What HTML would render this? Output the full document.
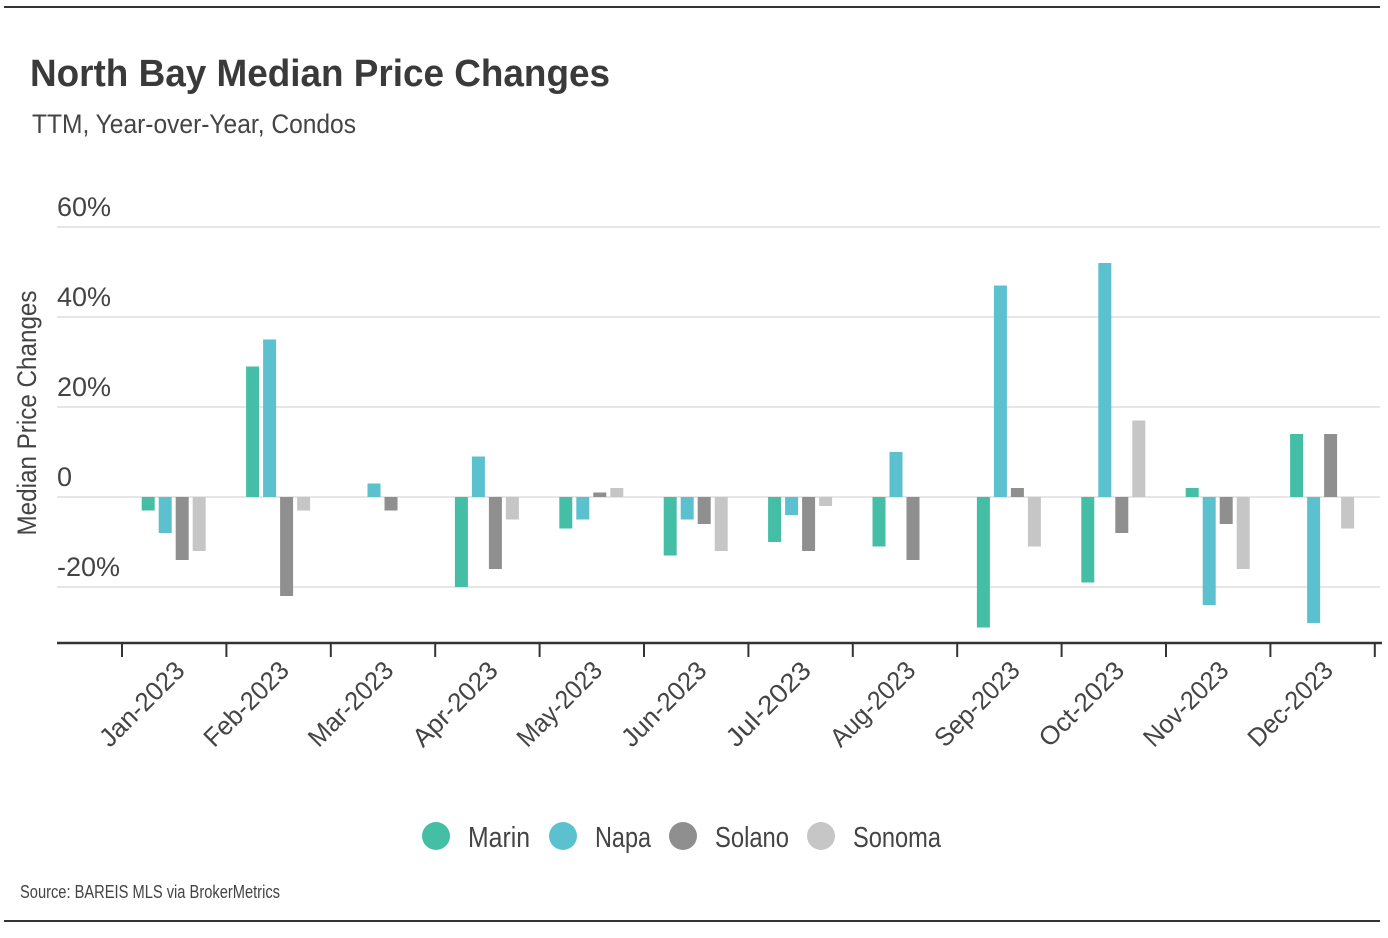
<!DOCTYPE html>
<html><head><meta charset="utf-8"><style>
body{margin:0;background:#fff;}
svg{display:block;font-family:"Liberation Sans",sans-serif;}
</style></head><body>
<svg id="chart" width="1388" height="938" viewBox="0 0 1388 938">
<line x1="4" y1="7" x2="1380" y2="7" stroke="#333" stroke-width="2"/>
<line x1="4" y1="921" x2="1380" y2="921" stroke="#333" stroke-width="2"/>
<text x="30" y="86" font-size="38" font-weight="bold" fill="#3a3a3a" textLength="580" lengthAdjust="spacingAndGlyphs">North Bay Median Price Changes</text>
<text x="32" y="133" font-size="27" fill="#444" textLength="324" lengthAdjust="spacingAndGlyphs">TTM, Year-over-Year, Condos</text>
<text transform="translate(36,413) rotate(-90)" text-anchor="middle" font-size="27" fill="#444" textLength="245" lengthAdjust="spacingAndGlyphs">Median Price Changes</text>
<g id="grid"></g><g id="bars"></g><g id="xaxis"></g>
<g id="legend"></g>
<text x="20" y="898" font-size="18" fill="#444" textLength="260" lengthAdjust="spacingAndGlyphs">Source:  BAREIS MLS via BrokerMetrics</text>
</svg>
<script>
const categories=["Jan-2023","Feb-2023","Mar-2023","Apr-2023","May-2023","Jun-2023","Jul-2023","Aug-2023","Sep-2023","Oct-2023","Nov-2023","Dec-2023"];
const seriesNames=["Marin","Napa","Solano","Sonoma"];
const marin=[-3,29,0,-20,-7,-13,-10,-11,-29,-19,2,14];
const napa=[-8,35,3,9,-5,-5,-4,10,47,52,-24,-28];
const solano=[-14,-22,-3,-16,1,-6,-12,-14,2,-8,-6,14];
const sonoma=[-12,-3,0,-5,2,-12,-2,0,-11,17,-16,-7];
const yTicks=[60,40,20,0,-20];
const yTickLabels=["60%","40%","20%","0","-20%"];
const colors=["#45bea6","#5cc1cf","#8f8f8f","#c6c6c6"];
const NS="http://www.w3.org/2000/svg";
const y0=497, pxPer=4.5, xLeft=122, step=104.4;
const y=v=>y0-v*pxPer;
const x=i=>xLeft+step*i+step/2;
function mk(t,a,p){const e=document.createElementNS(NS,t);for(const k in a)e.setAttribute(k,a[k]);p.appendChild(e);return e;}
const grid=document.getElementById('grid');
yTicks.forEach((v,i)=>{
 const l=mk('line',{x1:57,x2:1380,y1:y(v),y2:y(v),stroke:'#ddd','stroke-width':1.5},grid);
 
 
 const t=mk('text',{x:57,y:y(v)-11,'font-size':27,fill:'#444'},grid);
 t.textContent=yTickLabels[i];
 
 
});
const bars=document.getElementById('bars');
const series=[marin,napa,solano,sonoma];
const offs=[-26,-9,8,25];
series.forEach((s,si)=>s.forEach((v,i)=>{
 if(v===0)return;
 const cx=x(i)+offs[si];
 const r=mk('rect',{x:cx-6.5,width:13,y:Math.min(y(v),y0),height:Math.abs(y(v)-y0),fill:colors[si]},bars);
 
 
}));
const xa=document.getElementById('xaxis');
const ax=mk('line',{x1:57,x2:1382,y1:643,y2:643,stroke:'#333','stroke-width':2.5},xa);


for(let i=0;i<=categories.length;i++){
 const tk=mk('line',{x1:xLeft+step*i,x2:xLeft+step*i,y1:643,y2:657,stroke:'#333','stroke-width':2},xa);
 
 
}
categories.forEach((c,i)=>{
 const t=mk('text',{transform:`translate(${x(i)+12},672) rotate(-45)`,'text-anchor':'end','font-size':26,fill:'#444',textLength:108,lengthAdjust:'spacingAndGlyphs'},xa);
 t.textContent=c;
 
 
});
const lg=document.getElementById('legend');
const lx=[436,563,683,821], lw=[62,56,74,88];
seriesNames.forEach((n,i)=>{
 const c=mk('circle',{cx:lx[i],cy:836,r:14,fill:colors[i]},lg);
 
 
 const t=mk('text',{x:lx[i]+32,y:847,'font-size':29,fill:'#444',textLength:lw[i],lengthAdjust:'spacingAndGlyphs'},lg);
 t.textContent=n;
 
 
});
</script>
</body></html>
